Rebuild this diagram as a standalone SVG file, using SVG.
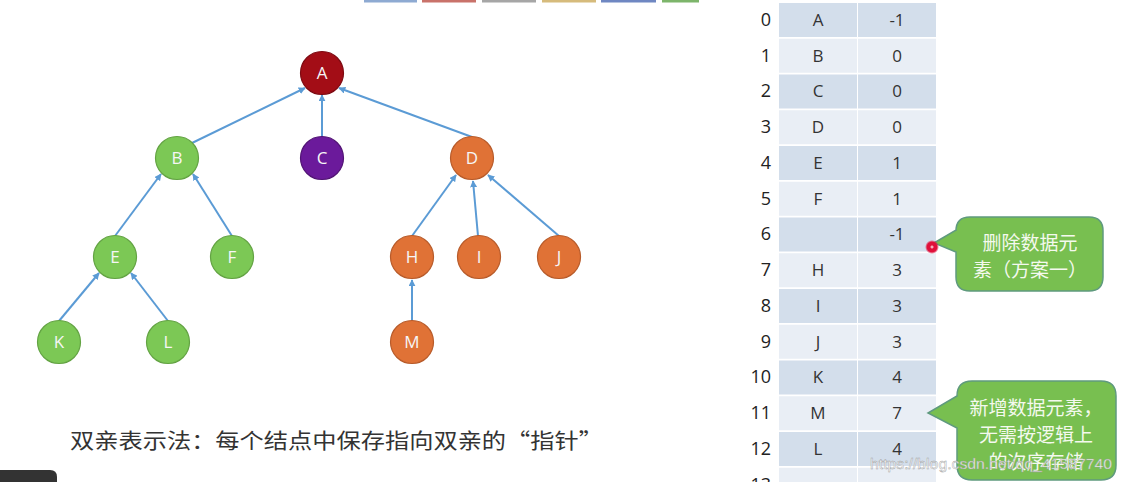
<svg xmlns="http://www.w3.org/2000/svg" width="1122" height="482" viewBox="0 0 1122 482">
<defs>
<style>
.nl{font-family:"Open Sans","Liberation Sans",sans-serif;font-size:17px;fill:#f6f6f6;text-anchor:middle}
.g{fill:#7cc855;stroke:#63a343;stroke-width:1.2}
.o{fill:#e07236;stroke:#b85b2a;stroke-width:1.2}
.e{stroke:#5b9bd5;stroke-width:2;fill:none;marker-end:url(#ah)}
.ce{fill:#d3deeb}
.co{fill:#e9eef5}
.ct{font-family:"Open Sans","Liberation Sans",sans-serif;font-size:17px;fill:#333;text-anchor:middle}
.ix{font-family:"Open Sans","Liberation Sans",sans-serif;font-size:18px;fill:#222;text-anchor:end}
.cb{fill:#78bf50;stroke:#5f9a7e;stroke-width:1.5}
.cbt{font-family:"Noto Sans CJK SC",sans-serif;font-size:19px;fill:#f4f9ee;text-anchor:middle}
</style>
<marker id="ah" viewBox="0 0 10 10" refX="9" refY="5" markerWidth="7" markerHeight="7" markerUnits="userSpaceOnUse" orient="auto">
<path d="M0,0 L10,5 L0,10 z" fill="#5b9bd5"/>
</marker>
<radialGradient id="dot">
<stop offset="0" stop-color="#ffffff"/>
<stop offset="0.3" stop-color="#e0103a"/>
<stop offset="0.7" stop-color="#e0103a"/>
<stop offset="1" stop-color="#e0103a" stop-opacity="0"/>
</radialGradient>
</defs>
<rect width="1122" height="482" fill="#ffffff"/>
<g id="topbars">
<rect x="364" y="0" width="53" height="2.5" fill="#8eaad2"/>
<rect x="422" y="0" width="54" height="2.5" fill="#c9726a"/>
<rect x="482" y="0" width="54" height="2.5" fill="#a6a6a6"/>
<rect x="542" y="0" width="54" height="2.5" fill="#d6bb7c"/>
<rect x="601" y="0" width="55" height="2.5" fill="#6f87c2"/>
<rect x="662" y="0" width="37" height="2.5" fill="#7db56b"/>
</g>
<g id="connectors">
<line class="e" x1="192" y1="143" x2="305" y2="88"/>
<line class="e" x1="322" y1="137" x2="322" y2="95"/>
<line class="e" x1="472" y1="137" x2="339" y2="88"/>
<line class="e" x1="115" y1="236" x2="161" y2="174"/>
<line class="e" x1="232" y1="236" x2="193" y2="174"/>
<line class="e" x1="59" y1="321" x2="99" y2="273"/>
<line class="e" x1="168" y1="321" x2="131" y2="273"/>
<line class="e" x1="412" y1="236" x2="456" y2="175"/>
<line class="e" x1="478" y1="236" x2="473" y2="181"/>
<line class="e" x1="559" y1="236" x2="488" y2="175"/>
<line class="e" x1="412" y1="321" x2="412" y2="280"/>
</g>
<g id="node-A"><circle cx="322" cy="73" r="21.5" fill="#a30d16" stroke="#7e0a12" stroke-width="1.2"/><text class="nl" x="322" y="79">A</text></g>
<g id="node-B"><circle class="g" cx="177" cy="158" r="21.5"/><text class="nl" x="177" y="164">B</text></g>
<g id="node-C"><circle cx="322" cy="158" r="21.5" fill="#6b1a9b" stroke="#521475" stroke-width="1.2"/><text class="nl" x="322" y="164">C</text></g>
<g id="node-D"><circle class="o" cx="472" cy="158" r="21.5"/><text class="nl" x="472" y="164">D</text></g>
<g id="node-E"><circle class="g" cx="115" cy="257" r="21.5"/><text class="nl" x="115" y="263">E</text></g>
<g id="node-F"><circle class="g" cx="232" cy="257" r="21.5"/><text class="nl" x="232" y="263">F</text></g>
<g id="node-H"><circle class="o" cx="412" cy="257" r="21.5"/><text class="nl" x="412" y="263">H</text></g>
<g id="node-I"><circle class="o" cx="479" cy="257" r="21.5"/><text class="nl" x="479" y="263">I</text></g>
<g id="node-J"><circle class="o" cx="559" cy="257" r="21.5"/><text class="nl" x="559" y="263">J</text></g>
<g id="node-K"><circle class="g" cx="59" cy="342" r="21.5"/><text class="nl" x="59" y="348">K</text></g>
<g id="node-L"><circle class="g" cx="168" cy="342" r="21.5"/><text class="nl" x="168" y="348">L</text></g>
<g id="node-M"><circle class="o" cx="412" cy="342" r="21.5"/><text class="nl" x="412" y="348">M</text></g>
<g id="caption"><text x="70" y="448" font-family="Noto Sans CJK SC,sans-serif" font-size="21" fill="#333" textLength="533" lengthAdjust="spacingAndGlyphs">双亲表示法：每个结点中保存指向双亲的“指针”</text></g>
<g id="table">
<rect class="ce" x="779" y="3" width="78" height="34"/><rect class="ce" x="858" y="3" width="78" height="34"/>
<rect class="co" x="779" y="38.75" width="78" height="34"/><rect class="co" x="858" y="38.75" width="78" height="34"/>
<rect class="ce" x="779" y="74.5" width="78" height="34"/><rect class="ce" x="858" y="74.5" width="78" height="34"/>
<rect class="co" x="779" y="110.25" width="78" height="34"/><rect class="co" x="858" y="110.25" width="78" height="34"/>
<rect class="ce" x="779" y="146" width="78" height="34"/><rect class="ce" x="858" y="146" width="78" height="34"/>
<rect class="co" x="779" y="181.75" width="78" height="34"/><rect class="co" x="858" y="181.75" width="78" height="34"/>
<rect class="ce" x="779" y="217.5" width="78" height="34"/><rect class="ce" x="858" y="217.5" width="78" height="34"/>
<rect class="co" x="779" y="253.25" width="78" height="34"/><rect class="co" x="858" y="253.25" width="78" height="34"/>
<rect class="ce" x="779" y="289" width="78" height="34"/><rect class="ce" x="858" y="289" width="78" height="34"/>
<rect class="co" x="779" y="324.75" width="78" height="34"/><rect class="co" x="858" y="324.75" width="78" height="34"/>
<rect class="ce" x="779" y="360.5" width="78" height="34"/><rect class="ce" x="858" y="360.5" width="78" height="34"/>
<rect class="co" x="779" y="396.25" width="78" height="34"/><rect class="co" x="858" y="396.25" width="78" height="34"/>
<rect class="ce" x="779" y="432" width="78" height="34"/><rect class="ce" x="858" y="432" width="78" height="34"/>
<rect class="co" x="779" y="467.75" width="78" height="34"/><rect class="co" x="858" y="467.75" width="78" height="34"/>
<text class="ix" x="771" y="26">0</text><text class="ct" x="818" y="26">A</text><text class="ct" x="897" y="26">-1</text>
<text class="ix" x="771" y="62">1</text><text class="ct" x="818" y="62">B</text><text class="ct" x="897" y="62">0</text>
<text class="ix" x="771" y="97">2</text><text class="ct" x="818" y="97">C</text><text class="ct" x="897" y="97">0</text>
<text class="ix" x="771" y="133">3</text><text class="ct" x="818" y="133">D</text><text class="ct" x="897" y="133">0</text>
<text class="ix" x="771" y="169">4</text><text class="ct" x="818" y="169">E</text><text class="ct" x="897" y="169">1</text>
<text class="ix" x="771" y="205">5</text><text class="ct" x="818" y="205">F</text><text class="ct" x="897" y="205">1</text>
<text class="ix" x="771" y="240">6</text><text class="ct" x="897" y="240">-1</text>
<text class="ix" x="771" y="276">7</text><text class="ct" x="818" y="276">H</text><text class="ct" x="897" y="276">3</text>
<text class="ix" x="771" y="312">8</text><text class="ct" x="818" y="312">I</text><text class="ct" x="897" y="312">3</text>
<text class="ix" x="771" y="348">9</text><text class="ct" x="818" y="348">J</text><text class="ct" x="897" y="348">3</text>
<text class="ix" x="771" y="383">10</text><text class="ct" x="818" y="383">K</text><text class="ct" x="897" y="383">4</text>
<text class="ix" x="771" y="419">11</text><text class="ct" x="818" y="419">M</text><text class="ct" x="897" y="419">7</text>
<text class="ix" x="771" y="455">12</text><text class="ct" x="818" y="455">L</text><text class="ct" x="897" y="455">4</text>
<text class="ix" x="771" y="491">13</text>
</g>
<g id="callout-delete">
<path class="cb" d="M970,217 H1089 Q1103,217 1103,231 V277 Q1103,291 1089,291 H970 Q956,291 956,277 V252 L934,243 L956,230 V231 Q956,217 970,217 Z"/>
<text class="cbt" x="1030" y="250">删除数据元</text>
<text class="cbt" x="1030" y="277">素（方案一）</text>
</g>
<circle id="pointer-dot" cx="932" cy="247" r="7" fill="url(#dot)"/>
<g id="callout-add">
<path class="cb" d="M972,381 H1101 Q1116,381 1116,396 V465 Q1116,480 1101,480 H972 Q957,480 957,465 V428 L928,413 L957,396 Q957,381 972,381 Z"/>
<text class="cbt" x="1036" y="415">新增数据元素，</text>
<text class="cbt" x="1036" y="442">无需按逻辑上</text>
<text class="cbt" x="1036" y="469">的次序存储</text>
</g>
<text id="watermark" x="870" y="469" font-family="Liberation Sans,sans-serif" font-size="15" fill="#ffffff" fill-opacity="0.85" stroke="#9a9a9a" stroke-width="0.4" textLength="242" lengthAdjust="spacingAndGlyphs">https://blog.csdn.net/qq_41587740</text>
<path id="corner-tab" d="M0,470 H50 Q57,470 57,477 V482 H0 Z" fill="#333333"/>
</svg>
